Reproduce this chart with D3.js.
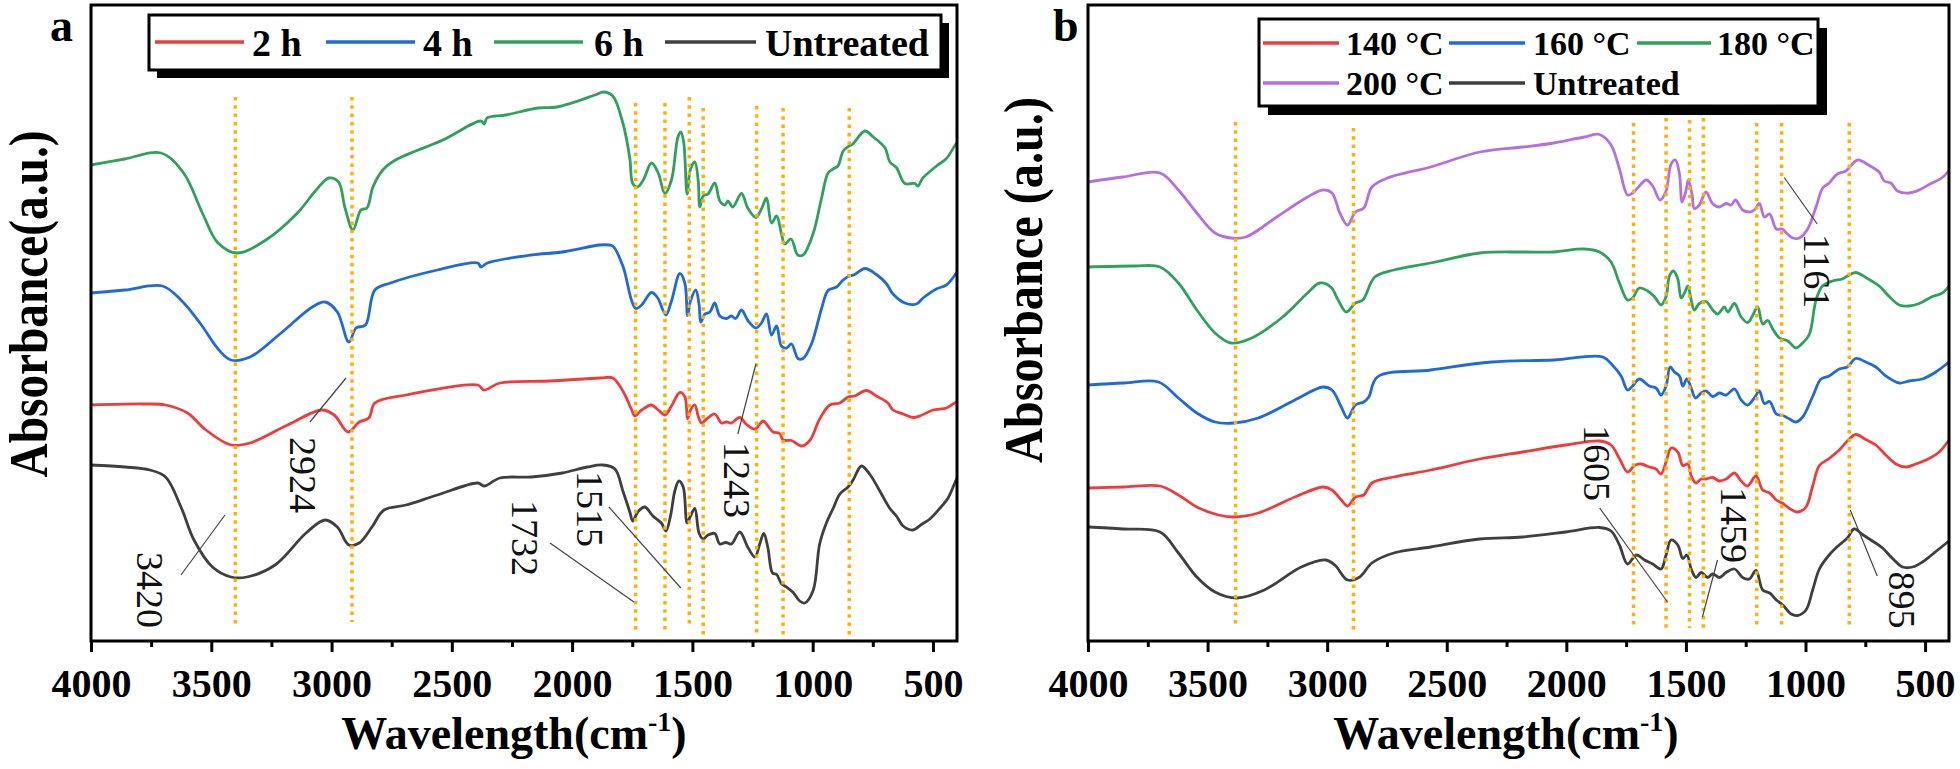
<!DOCTYPE html>
<html><head><meta charset="utf-8">
<script src="https://cdn.jsdelivr.net/npm/d3@7"></script>
<style>
body{margin:0;background:#fff;}
svg{display:block;}
text{font-family:"Liberation Serif","Times New Roman",serif;}
</style>
</head><body>
<svg id="chart" width="1960" height="769"></svg>
<script>
// ---------- DATA (wavenumber cm-1, absorbance a.u.) ----------
const xTicksMajor = [4000,3500,3000,2500,2000,1500,1000,500];
const xTicksMinor = [3750,3250,2750,2250,1750,1250,750];

// Panel a : treatment time
const seriesA_names = ["2 h","4 h","6 h","Untreated"];
const a_6h = [[4000,0.952],[3860,0.964],[3709,0.976],[3615,0.936],[3537,0.856],[3472,0.796],[3393,0.776],[3273,0.802],[3142,0.856],[3064,0.902],[3011,0.926],[2971,0.918],[2945,0.868],[2911,0.822],[2878,0.862],[2853,0.866],[2828,0.908],[2787,0.942],[2734,0.962],[2537,1.002],[2380,1.040],[2365,1.034],[2354,1.046],[2275,1.052],[2142,1.066],[2063,1.068],[1905,1.092],[1870,1.098],[1831,1.090],[1789,1.036],[1760,0.965],[1748,0.915],[1729,0.908],[1704,0.922],[1670,0.956],[1642,0.936],[1614,0.895],[1587,0.922],[1560,1.008],[1548,1.018],[1536,0.997],[1522,0.894],[1508,0.944],[1490,0.958],[1476,0.922],[1469,0.868],[1455,0.890],[1435,0.894],[1407,0.916],[1386,0.880],[1365,0.872],[1352,0.880],[1332,0.868],[1296,0.895],[1269,0.865],[1236,0.847],[1212,0.865],[1192,0.886],[1171,0.836],[1150,0.850],[1130,0.815],[1116,0.794],[1090,0.804],[1062,0.772],[1040,0.772],[998,0.815],[963,0.886],[936,0.936],[915,0.944],[895,0.950],[873,0.980],[848,0.990],[833,0.994],[783,1.020],[748,1.008],[699,0.986],[679,0.958],[652,0.947],[617,0.915],[575,0.915],[563,0.910],[542,0.926],[485,0.950],[444,0.965],[410,0.990],[400,0.996]];
const a_4h = [[4000,0.696],[3859,0.702],[3703,0.710],[3626,0.682],[3547,0.636],[3468,0.582],[3418,0.562],[3339,0.568],[3210,0.616],[3080,0.668],[3027,0.678],[2976,0.658],[2928,0.598],[2898,0.626],[2859,0.632],[2820,0.702],[2755,0.716],[2560,0.742],[2392,0.756],[2379,0.748],[2352,0.756],[2170,0.772],[2041,0.778],[1885,0.792],[1846,0.792],[1831,0.790],[1789,0.750],[1752,0.680],[1735,0.665],[1711,0.672],[1670,0.697],[1644,0.686],[1610,0.652],[1587,0.680],[1552,0.735],[1531,0.715],[1520,0.651],[1508,0.680],[1486,0.702],[1472,0.672],[1465,0.638],[1448,0.654],[1427,0.658],[1407,0.676],[1386,0.650],[1358,0.645],[1338,0.650],[1320,0.645],[1296,0.662],[1268,0.640],[1236,0.626],[1213,0.636],[1192,0.654],[1171,0.612],[1150,0.630],[1130,0.590],[1109,0.586],[1088,0.594],[1061,0.565],[1040,0.565],[1005,0.594],[963,0.665],[936,0.701],[901,0.708],[873,0.722],[848,0.730],[825,0.733],[783,0.745],[735,0.733],[694,0.715],[666,0.694],[617,0.676],[569,0.674],[541,0.686],[486,0.704],[444,0.712],[410,0.731],[400,0.738]];
const a_2h = [[4000,0.472],[3780,0.474],[3690,0.472],[3599,0.456],[3522,0.422],[3418,0.392],[3339,0.396],[3183,0.432],[3040,0.462],[2989,0.452],[2931,0.418],[2885,0.438],[2845,0.446],[2820,0.476],[2690,0.492],[2392,0.512],[2366,0.502],[2300,0.516],[2092,0.520],[1885,0.526],[1831,0.526],[1789,0.500],[1752,0.462],[1739,0.450],[1711,0.462],[1670,0.472],[1642,0.462],[1614,0.452],[1587,0.470],[1552,0.497],[1531,0.488],[1520,0.445],[1508,0.462],[1490,0.472],[1476,0.450],[1462,0.436],[1441,0.444],[1407,0.454],[1379,0.436],[1358,0.438],[1338,0.436],[1303,0.447],[1275,0.433],[1240,0.424],[1206,0.440],[1186,0.430],[1165,0.418],[1137,0.415],[1123,0.402],[1088,0.401],[1047,0.390],[1012,0.401],[971,0.444],[929,0.472],[887,0.476],[853,0.488],[825,0.490],[776,0.501],[735,0.490],[687,0.476],[666,0.462],[624,0.454],[583,0.447],[555,0.450],[500,0.462],[444,0.466],[410,0.476],[400,0.478]];
const a_untreated = [[4000,0.352],[3859,0.348],[3755,0.342],[3690,0.328],[3626,0.268],[3572,0.202],[3495,0.148],[3418,0.128],[3352,0.128],[3235,0.152],[3106,0.216],[3027,0.242],[2976,0.228],[2928,0.192],[2885,0.196],[2832,0.228],[2782,0.262],[2690,0.272],[2560,0.292],[2392,0.316],[2366,0.310],[2300,0.326],[2170,0.328],[2041,0.336],[1937,0.348],[1872,0.352],[1822,0.344],[1789,0.300],[1760,0.258],[1748,0.240],[1727,0.258],[1698,0.268],[1664,0.250],[1629,0.236],[1610,0.220],[1591,0.250],[1573,0.300],[1556,0.320],[1538,0.308],[1522,0.236],[1508,0.250],[1490,0.265],[1472,0.215],[1455,0.204],[1435,0.212],[1407,0.215],[1386,0.194],[1361,0.197],[1338,0.194],[1303,0.218],[1268,0.186],[1240,0.168],[1220,0.194],[1203,0.215],[1186,0.186],[1167,0.136],[1150,0.133],[1130,0.115],[1109,0.108],[1081,0.097],[1054,0.080],[1033,0.076],[998,0.101],[971,0.194],[943,0.236],[915,0.265],[887,0.294],[853,0.308],[832,0.322],[797,0.350],[762,0.333],[721,0.300],[679,0.265],[652,0.250],[624,0.230],[583,0.222],[548,0.233],[513,0.244],[472,0.265],[437,0.286],[410,0.315],[400,0.326]];

// Panel b : treatment temperature
const seriesB_names = ["140 °C","160 °C","180 °C","200 °C","Untreated"];
const b_200 = [[4000,0.918],[3854,0.928],[3699,0.936],[3622,0.902],[3545,0.856],[3469,0.816],[3403,0.806],[3340,0.808],[3211,0.848],[3082,0.888],[3018,0.902],[2980,0.896],[2947,0.856],[2915,0.832],[2882,0.858],[2847,0.866],[2813,0.908],[2748,0.926],[2568,0.948],[2362,0.978],[2182,0.988],[2053,0.996],[1925,1.008],[1861,1.013],[1813,0.992],[1778,0.944],[1744,0.892],[1723,0.896],[1702,0.906],[1666,0.922],[1639,0.910],[1608,0.882],[1583,0.900],[1562,0.954],[1544,0.962],[1527,0.934],[1516,0.878],[1499,0.902],[1490,0.922],[1474,0.892],[1465,0.865],[1444,0.872],[1416,0.898],[1389,0.875],[1360,0.868],[1332,0.875],[1311,0.872],[1293,0.882],[1263,0.862],[1235,0.858],[1214,0.862],[1193,0.875],[1172,0.848],[1150,0.854],[1122,0.824],[1097,0.824],[1080,0.816],[1053,0.806],[1026,0.806],[991,0.824],[956,0.868],[928,0.906],[901,0.916],[867,0.934],[831,0.940],[810,0.951],[782,0.962],[733,0.951],[692,0.938],[671,0.920],[643,0.916],[615,0.900],[567,0.896],[525,0.902],[483,0.913],[428,0.927],[400,0.941]];
const b_180 = [[4000,0.748],[3804,0.750],[3699,0.748],[3622,0.716],[3545,0.662],[3469,0.616],[3403,0.596],[3315,0.606],[3186,0.648],[3082,0.696],[3031,0.716],[2985,0.708],[2954,0.682],[2920,0.658],[2882,0.676],[2851,0.682],[2801,0.728],[2722,0.742],[2568,0.756],[2362,0.776],[2182,0.778],[2053,0.778],[1926,0.784],[1861,0.778],[1813,0.758],[1778,0.716],[1744,0.682],[1723,0.686],[1695,0.706],[1660,0.700],[1632,0.689],[1604,0.672],[1583,0.689],[1569,0.730],[1552,0.740],[1534,0.724],[1520,0.686],[1506,0.696],[1492,0.710],[1478,0.682],[1465,0.662],[1444,0.675],[1416,0.679],[1388,0.662],[1367,0.654],[1339,0.668],[1325,0.658],[1297,0.675],[1269,0.648],[1242,0.637],[1221,0.651],[1200,0.668],[1179,0.634],[1158,0.641],[1137,0.624],[1109,0.606],[1074,0.600],[1040,0.586],[1012,0.596],[984,0.613],[956,0.682],[929,0.710],[887,0.720],[846,0.724],[825,0.730],[790,0.737],[748,0.727],[692,0.710],[650,0.689],[608,0.672],[567,0.670],[525,0.675],[469,0.689],[428,0.696],[400,0.710]];
const b_160 = [[4000,0.512],[3850,0.516],[3705,0.518],[3622,0.486],[3545,0.456],[3469,0.438],[3390,0.436],[3288,0.446],[3135,0.482],[3018,0.508],[2980,0.502],[2941,0.468],[2915,0.446],[2882,0.472],[2847,0.478],[2826,0.488],[2790,0.528],[2567,0.542],[2312,0.558],[2053,0.562],[1848,0.568],[1806,0.551],[1771,0.530],[1744,0.502],[1723,0.510],[1695,0.524],[1653,0.510],[1625,0.506],[1604,0.492],[1583,0.510],[1566,0.548],[1548,0.538],[1527,0.530],[1513,0.510],[1496,0.524],[1478,0.506],[1460,0.486],[1436,0.496],[1416,0.500],[1388,0.489],[1360,0.496],[1332,0.492],[1297,0.504],[1269,0.482],[1242,0.472],[1214,0.486],[1193,0.500],[1172,0.475],[1150,0.479],[1122,0.454],[1095,0.451],[1067,0.444],[1040,0.438],[1012,0.448],[970,0.489],[935,0.524],[901,0.530],[859,0.544],[825,0.548],[790,0.565],[748,0.558],[706,0.548],[664,0.530],[608,0.516],[567,0.520],[511,0.524],[455,0.538],[400,0.558]];
const b_140 = [[4000,0.306],[3850,0.308],[3699,0.310],[3622,0.292],[3545,0.268],[3455,0.252],[3390,0.248],[3288,0.256],[3135,0.288],[3018,0.308],[2980,0.302],[2941,0.282],[2915,0.270],[2882,0.288],[2847,0.292],[2813,0.316],[2722,0.328],[2567,0.342],[2362,0.364],[2183,0.378],[2003,0.392],[1861,0.400],[1813,0.392],[1778,0.365],[1744,0.338],[1715,0.351],[1687,0.354],[1653,0.348],[1625,0.344],[1604,0.334],[1583,0.358],[1562,0.386],[1534,0.378],[1513,0.351],[1492,0.354],[1478,0.330],[1458,0.316],[1436,0.324],[1416,0.324],[1388,0.327],[1360,0.320],[1332,0.324],[1297,0.336],[1269,0.320],[1242,0.310],[1207,0.330],[1179,0.302],[1150,0.296],[1122,0.282],[1095,0.275],[1067,0.265],[1033,0.258],[998,0.268],[970,0.310],[942,0.351],[901,0.365],[859,0.382],[825,0.400],[790,0.413],[748,0.403],[706,0.392],[664,0.372],[622,0.354],[580,0.348],[539,0.354],[483,0.365],[441,0.378],[400,0.402]];
const b_untreated = [[4000,0.228],[3854,0.224],[3699,0.218],[3622,0.176],[3545,0.128],[3469,0.098],[3378,0.086],[3263,0.102],[3108,0.148],[3006,0.162],[2968,0.152],[2915,0.122],[2864,0.128],[2813,0.156],[2722,0.176],[2567,0.188],[2362,0.204],[2183,0.208],[2003,0.218],[1861,0.227],[1813,0.220],[1778,0.192],[1744,0.154],[1708,0.172],[1673,0.162],[1639,0.154],[1604,0.144],[1583,0.172],[1562,0.202],[1534,0.192],[1513,0.165],[1496,0.172],[1478,0.144],[1458,0.127],[1436,0.137],[1409,0.127],[1388,0.134],[1360,0.127],[1332,0.137],[1297,0.144],[1263,0.127],[1235,0.124],[1207,0.141],[1179,0.102],[1150,0.096],[1122,0.082],[1095,0.072],[1060,0.054],[1033,0.051],[998,0.062],[970,0.102],[942,0.144],[901,0.172],[859,0.192],[825,0.206],[797,0.224],[762,0.213],[720,0.200],[678,0.186],[636,0.165],[594,0.148],[552,0.148],[511,0.158],[455,0.179],[400,0.200]];

// reference (dotted) band positions and vertical extents
const bandsA = [3400,2915,1736,1614,1513,1455,1233,1123,848];
const bandsA_top = [1.088,1.088,1.076,1.076,1.088,1.066,1.070,1.066,1.066];
const bandsA_bot = [0.032,0.038,0.022,0.020,0.032,0.010,0.016,0.010,0.008];
const bandsB = [3383,2890,1719,1583,1485,1427,1204,1100,817];
const bandsB_top = [1.038,1.026,1.036,1.046,1.042,1.046,1.036,1.036,1.036];
const bandsB_bot = [0.026,0.016,0.026,0.026,0.026,0.026,0.026,0.026,0.026];

// peak labels: text, text anchor (w,v), leader from (w1,v1) to (w2,v2)
const labelsA = [
  {t:"3420", w:3755, v:0.102, w1:3626, v1:0.132, w2:3443, v2:0.252},
  {t:"2924", w:3119, v:0.332, w1:3090, v1:0.438, w2:2940, v2:0.526},
  {t:"1732", w:2196, v:0.206, w1:2092, v1:0.196, w2:1743, v2:0.078},
  {t:"1515", w:1926, v:0.264, w1:1847, v1:0.268, w2:1548, v2:0.106},
  {t:"1243", w:1315, v:0.322, w1:1311, v1:0.414, w2:1236, v2:0.554}
];
const labelsB = [
  {t:"1161", w:951, v:0.740, w1:1089, v1:0.927, w2:951, v2:0.834},
  {t:"1605", w:1870, v:0.356, w1:1861, v1:0.266, w2:1577, v2:0.078},
  {t:"1459", w:1297, v:0.232, w1:1368, v1:0.162, w2:1431, v2:0.048},
  {t:"895", w:596, v:0.082, w1:813, v1:0.262, w2:700, v2:0.130}
];

// ---------- DRAWING ----------
const colors = {red:"#EE3B3B", blue:"#1F6AD8", green:"#2FA05E", gray:"#3F3F3F", purple:"#B46FE0"};
const svg = d3.select("#chart");
const TOP = 5, BOTTOM = 641;

function drawPanel(cfg){
  const x = d3.scaleLinear().domain([4000,400]).range([cfg.left, cfg.right]);
  const y = d3.scaleLinear().domain([0,1.272]).range([BOTTOM, TOP]);
  const g = svg.append("g");
  const line = d3.line().x(d=>x(d[0])).y(d=>y(d[1])).curve(d3.curveCatmullRom.alpha(0.5));

  cfg.series.forEach(s=>{
    g.append("path").datum(s.data).attr("d", line)
      .attr("fill","none").attr("stroke", s.color).attr("stroke-width",2.8)
      .attr("stroke-linejoin","round");
  });

  // dotted reference lines
  cfg.bands.forEach((b,i)=>{
    g.append("line").attr("x1",x(b)).attr("x2",x(b))
      .attr("y1",y(cfg.bandTop[i])).attr("y2",y(cfg.bandBot[i]))
      .attr("stroke","#FFB000").attr("stroke-width",3.5).attr("stroke-dasharray","3.5,4.8");
  });

  // labels
  cfg.labels.forEach(l=>{
    g.append("line").attr("x1",x(l.w1)).attr("y1",y(l.v1)).attr("x2",x(l.w2)).attr("y2",y(l.v2))
      .attr("stroke","#444").attr("stroke-width",1.2);
    g.append("text").attr("transform",`translate(${x(l.w)},${y(l.v)}) rotate(90)`)
      .attr("text-anchor","middle").attr("dominant-baseline","central")
      .attr("font-size",38).attr("fill","#111").text(l.t);
  });

  // axes
  const axMaj = d3.axisBottom(x).tickValues(xTicksMajor).tickSize(11).tickFormat(d3.format("d"));
  const axMin = d3.axisBottom(x).tickValues(xTicksMinor).tickSize(6).tickFormat("");
  const ga = g.append("g").attr("transform",`translate(0,${BOTTOM})`).call(axMaj);
  const gm = g.append("g").attr("transform",`translate(0,${BOTTOM})`).call(axMin);
  [ga,gm].forEach(a=>{ a.select(".domain").remove(); a.selectAll("line").attr("stroke","#000").attr("stroke-width",3); });
  ga.selectAll("text").attr("y",56).attr("dy",null).attr("font-size",40).attr("font-weight","bold")
    .attr("fill","#000").style("font-family","'Liberation Serif',serif");

  // frame
  g.append("rect").attr("x",cfg.left).attr("y",TOP).attr("width",cfg.right-cfg.left).attr("height",BOTTOM-TOP)
    .attr("fill","none").attr("stroke","#000").attr("stroke-width",3);

  // axis titles
  const xt = g.append("text").attr("x",cfg.xTitleX).attr("y",749).attr("text-anchor","middle")
    .attr("font-size",46).attr("font-weight","bold").attr("fill","#000");
  xt.append("tspan").text("Wavelength(cm");
  xt.append("tspan").attr("dy",-18).attr("font-size",28).text("-1");
  xt.append("tspan").attr("dy",18).text(")");

  g.append("text").attr("transform",`translate(${cfg.yTitleX},${cfg.yTitleY}) rotate(-90)`)
    .attr("text-anchor","middle").attr("dominant-baseline","central")
    .attr("font-size",54).attr("font-weight","bold").attr("fill","#000")
    .attr("textLength",cfg.yTitleLen).attr("lengthAdjust","spacingAndGlyphs").text(cfg.yTitle);

  g.append("text").attr("x",cfg.tagX).attr("y",41).attr("font-size",46).attr("font-weight","bold").text(cfg.tag);

  // legend
  const L = cfg.legend;
  g.append("rect").attr("x",L.x+L.sh).attr("y",L.y+L.sh).attr("width",L.w).attr("height",L.h).attr("fill","#000");
  g.append("rect").attr("x",L.x).attr("y",L.y).attr("width",L.w).attr("height",L.h).attr("fill","#fff")
    .attr("stroke","#000").attr("stroke-width",3);
  L.items.forEach(it=>{
    g.append("line").attr("x1",it.lx1).attr("x2",it.lx2).attr("y1",it.ly).attr("y2",it.ly)
      .attr("stroke",it.color).attr("stroke-width",3.5);
    g.append("text").attr("x",it.tx).attr("y",it.ly).attr("dy","0.36em").attr("font-size",L.fs)
      .attr("font-weight","bold").attr("fill","#000").text(it.name);
  });
}

drawPanel({
  left:91, right:957,
  series:[{data:a_6h,color:colors.green},{data:a_4h,color:colors.blue},{data:a_2h,color:colors.red},{data:a_untreated,color:colors.gray}],
  bands:bandsA, bandTop:bandsA_top, bandBot:bandsA_bot, labels:labelsA,
  xTitleX:514, yTitleX:29, yTitleY:304, yTitleLen:347, yTitle:"Absorbance(a.u.)",
  tag:"a", tagX:50,
  legend:{x:149,y:15,w:792,h:55,sh:8,fs:38,items:[
    {name:seriesA_names[0],color:colors.red,lx1:155,lx2:244,ly:42,tx:252},
    {name:seriesA_names[1],color:colors.blue,lx1:326,lx2:415,ly:42,tx:423},
    {name:seriesA_names[2],color:colors.green,lx1:494,lx2:583,ly:42,tx:594},
    {name:seriesA_names[3],color:colors.gray,lx1:665,lx2:756,ly:42,tx:765}
  ]}
});

drawPanel({
  left:1088, right:1949,
  series:[{data:b_200,color:colors.purple},{data:b_180,color:colors.green},{data:b_160,color:colors.blue},{data:b_140,color:colors.red},{data:b_untreated,color:colors.gray}],
  bands:bandsB, bandTop:bandsB_top, bandBot:bandsB_bot, labels:labelsB,
  xTitleX:1506, yTitleX:1024, yTitleY:280, yTitleLen:366, yTitle:"Absorbance (a.u.)",
  tag:"b", tagX:1053,
  legend:{x:1259,y:19,w:559,h:87,sh:9,fs:34,items:[
    {name:seriesB_names[0],color:colors.red,lx1:1263,lx2:1339,ly:43,tx:1346},
    {name:seriesB_names[1],color:colors.blue,lx1:1449,lx2:1525,ly:43,tx:1533},
    {name:seriesB_names[2],color:colors.green,lx1:1637,lx2:1711,ly:43,tx:1717},
    {name:seriesB_names[3],color:colors.purple,lx1:1263,lx2:1339,ly:83,tx:1346},
    {name:seriesB_names[4],color:colors.gray,lx1:1449,lx2:1525,ly:83,tx:1533}
  ]}
});
</script>
</body></html>
